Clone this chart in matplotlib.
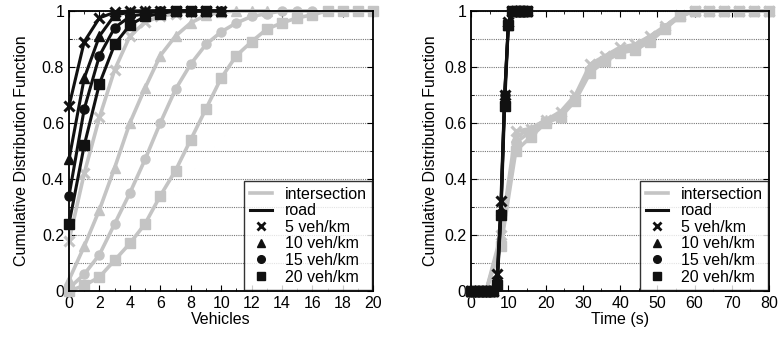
import matplotlib.pyplot as plt
import numpy as np
from matplotlib.lines import Line2D
from matplotlib.ticker import MultipleLocator

plt.rcParams['font.family'] = ['Liberation Sans', 'DejaVu Sans']

densities = ["5 veh/km", "10 veh/km", "15 veh/km", "20 veh/km"]
markers = ["x", "^", "o", "s"]

# left: number of vehicles
veh_road_x = [np.arange(0, 11), np.arange(0, 11), np.arange(0, 11), np.arange(0, 10)]
veh_road = [
    [0.66, 0.89, 0.975, 0.995, 1.0, 1.0, 1.0, 1.0, 1.0, 1.0, 1.0],
    [0.47, 0.76, 0.91, 0.985, 0.995, 1.0, 1.0, 1.0, 1.0, 1.0, 1.0],
    [0.34, 0.65, 0.84, 0.94, 0.98, 0.99, 1.0, 1.0, 1.0, 1.0, 1.0],
    [0.24, 0.52, 0.74, 0.88, 0.95, 0.98, 0.99, 1.0, 1.0, 1.0],
]
veh_inter_x = [np.arange(0, 10), np.arange(0, 14), np.arange(0, 17), np.arange(0, 21)]
veh_inter = [
    [0.18, 0.42, 0.62, 0.79, 0.91, 0.96, 0.98, 0.99, 1.0, 1.0],
    [0.04, 0.16, 0.29, 0.44, 0.60, 0.725, 0.84, 0.91, 0.957, 0.985, 0.995, 1.0, 1.0, 1.0],
    [0.01, 0.06, 0.13, 0.24, 0.35, 0.47, 0.60, 0.72, 0.81, 0.88, 0.925, 0.957, 0.98, 0.99, 1.0, 1.0, 1.0],
    [0.0, 0.02, 0.05, 0.11, 0.17, 0.24, 0.34, 0.43, 0.54, 0.65, 0.76, 0.84, 0.89, 0.935,
     0.957, 0.975, 0.986, 1.0, 1.0, 1.0, 1.0],
]

# right: time
time_road_x = np.arange(0, 16)
time_road = [
    [0, 0, 0, 0, 0, 0, 0, 0.06, 0.32, 0.70, 0.96, 1, 1, 1, 1, 1],
    [0, 0, 0, 0, 0, 0, 0, 0.04, 0.29, 0.69, 0.95, 1, 1, 1, 1, 1],
    [0, 0, 0, 0, 0, 0, 0, 0.03, 0.28, 0.70, 0.95, 1, 1, 1, 1, 1],
    [0, 0, 0, 0, 0, 0, 0, 0.02, 0.27, 0.66, 0.95, 1, 1, 1, 1, 1],
]
time_inter_x = np.arange(0, 81, 4)
time_inter = [
    [0, 0, 0.20, 0.57, 0.58, 0.61, 0.64, 0.70, 0.81, 0.84, 0.87, 0.88, 0.91, 0.945, 0.985, 1, 1, 1, 1, 1, 1],
    [0, 0, 0.18, 0.55, 0.58, 0.61, 0.63, 0.69, 0.80, 0.83, 0.86, 0.87, 0.90, 0.94, 0.98, 1, 1, 1, 1, 1, 1],
    [0, 0, 0.17, 0.53, 0.57, 0.60, 0.63, 0.69, 0.79, 0.825, 0.855, 0.87, 0.90, 0.94, 0.98, 1, 1, 1, 1, 1, 1],
    [0, 0, 0.16, 0.50, 0.55, 0.60, 0.62, 0.68, 0.78, 0.82, 0.85, 0.86, 0.89, 0.935, 0.98, 1, 1, 1, 1, 1, 1],
]

gray = "#c4c4c4"
black = "#111111"
fs = 11.5

fig = plt.figure(figsize=(7.8, 3.4), dpi=100)
ax1 = fig.add_axes([0.0885, 0.144, 0.39, 0.824])
ax2 = fig.add_axes([0.604, 0.144, 0.382, 0.824])


def draw(ax, ix, iy, rx, ry):
    for k in range(4):
        m = markers[k]
        ax.plot(ix[k], iy[k], color=gray, lw=2.6, marker=m, ms=6.5 if m != "x" else 7,
                mew=2.2 if m == "x" else 1, clip_on=False, zorder=2)
    for k in range(4):
        m = markers[k]
        ax.plot(rx[k], ry[k], color=black, lw=2.2, marker=m, ms=6.5 if m != "x" else 7,
                mew=2.2 if m == "x" else 1, clip_on=False, zorder=3)


draw(ax1, veh_inter_x, veh_inter, veh_road_x, veh_road)
draw(ax2, [time_inter_x] * 4, time_inter, [time_road_x] * 4, time_road)

ax1.set_xlim(0, 20)
ax1.xaxis.set_major_locator(MultipleLocator(2))
ax1.xaxis.set_minor_locator(MultipleLocator(1))
ax1.set_xlabel("Vehicles", fontsize=fs, labelpad=1)

ax2.set_xlim(0, 80)
ax2.xaxis.set_major_locator(MultipleLocator(10))
ax2.xaxis.set_minor_locator(MultipleLocator(5))
ax2.set_xlabel("Time (s)", fontsize=fs, labelpad=1)

handles = [Line2D([], [], color=gray, lw=2.6), Line2D([], [], color=black, lw=2.2)]
labels = ["intersection", "road"]
for k in range(4):
    handles.append(Line2D([], [], color=black, ls="none", marker=markers[k],
                          ms=5.5 if markers[k] != "x" else 6, mew=2 if markers[k] == "x" else 1))
    labels.append(densities[k])

for ax, pad in ((ax1, 9), (ax2, 4)):
    ax.set_ylim(0, 1)
    ax.yaxis.set_major_locator(MultipleLocator(0.2))
    ax.yaxis.set_minor_locator(MultipleLocator(0.1))
    ax.yaxis.set_major_formatter(plt.FuncFormatter(lambda v, p: "%g" % round(v, 1)))
    ax.grid(True, which="both", axis="y", color="#777777", ls=(0, (1, 1)), lw=0.8)
    ax.set_axisbelow(True)
    ax.tick_params(which="both", direction="in", top=True, right=True, labelsize=fs)
    ax.tick_params(which="major", length=4)
    ax.tick_params(which="minor", length=2.5)
    for s in ax.spines.values():
        s.set_linewidth(1.3)
    ax.set_ylabel("Cumulative Distribution Function", fontsize=fs, labelpad=pad)
    leg = ax.legend(handles, labels, loc="lower right", fontsize=fs, frameon=True,
                    fancybox=False, edgecolor="black", handlelength=1.4, handletextpad=0.8,
                    labelspacing=0.1, borderpad=0.35, borderaxespad=0.05)
    leg.get_frame().set_linewidth(1.0)

fig.savefig("out.png", dpi=100)
